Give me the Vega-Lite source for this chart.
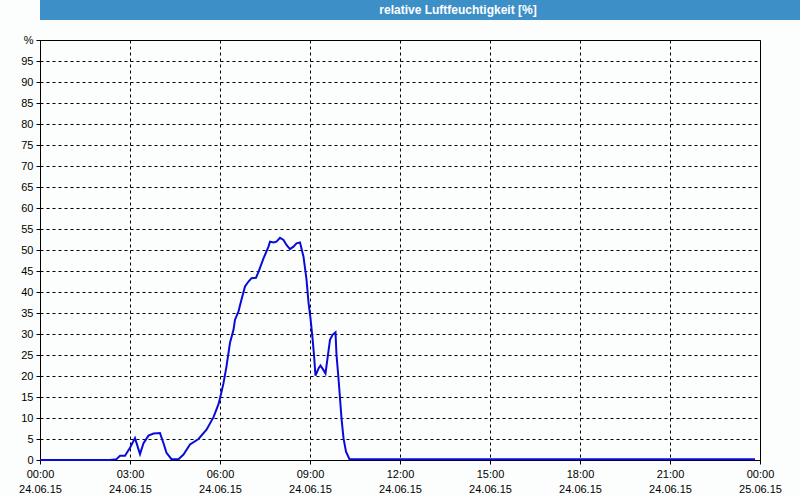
{
  "$schema": "https://vega.github.io/schema/vega-lite/v6.json",
  "background": "#fbfefd",
  "padding": 0,
  "columns": 1,
  "align": "none",
  "spacing": 13,
  "config": {"view": {"stroke": null}, "font": "Liberation Sans"},
  "concat": [
    {
      "width": 800,
      "height": 20,
      "view": {"fill": "#3d8fc8", "stroke": null},
      "data": {"values": [{"title": "relative Luftfeuchtigkeit [%]"}]},
      "mark": {"type": "text", "color": "#ffffff", "fontWeight": "bold", "fontSize": 12, "font": "Liberation Sans", "dx": 18, "baseline": "middle", "align": "center"},
      "encoding": {"text": {"field": "title", "type": "nominal"}}
    },
    {
      "width": 720,
      "height": 420,
      "view": {"stroke": "#000000", "strokeWidth": 1},
      "data": {"values": [
        {"t": "2015-06-24T00:00", "v": 0},
        {"t": "2015-06-24T02:20", "v": 0},
        {"t": "2015-06-24T02:33", "v": 0.2},
        {"t": "2015-06-24T02:40", "v": 1.0},
        {"t": "2015-06-24T02:50", "v": 1.0},
        {"t": "2015-06-24T03:00", "v": 2.9},
        {"t": "2015-06-24T03:10", "v": 5.2},
        {"t": "2015-06-24T03:20", "v": 1.4},
        {"t": "2015-06-24T03:27", "v": 4.0},
        {"t": "2015-06-24T03:37", "v": 5.8},
        {"t": "2015-06-24T03:47", "v": 6.3},
        {"t": "2015-06-24T04:00", "v": 6.4},
        {"t": "2015-06-24T04:07", "v": 4.0},
        {"t": "2015-06-24T04:13", "v": 1.7},
        {"t": "2015-06-24T04:23", "v": 0.2},
        {"t": "2015-06-24T04:37", "v": 0.2},
        {"t": "2015-06-24T04:47", "v": 1.3},
        {"t": "2015-06-24T05:00", "v": 3.7},
        {"t": "2015-06-24T05:17", "v": 5.0},
        {"t": "2015-06-24T05:33", "v": 7.2},
        {"t": "2015-06-24T05:47", "v": 10.2},
        {"t": "2015-06-24T05:57", "v": 13.3},
        {"t": "2015-06-24T06:01", "v": 15.2},
        {"t": "2015-06-24T06:07", "v": 18.3},
        {"t": "2015-06-24T06:13", "v": 22.3},
        {"t": "2015-06-24T06:20", "v": 27.9},
        {"t": "2015-06-24T06:27", "v": 31.0},
        {"t": "2015-06-24T06:30", "v": 33.4},
        {"t": "2015-06-24T06:37", "v": 35.4},
        {"t": "2015-06-24T06:43", "v": 38.2},
        {"t": "2015-06-24T06:50", "v": 41.3},
        {"t": "2015-06-24T06:57", "v": 42.5},
        {"t": "2015-06-24T07:03", "v": 43.3},
        {"t": "2015-06-24T07:12", "v": 43.4},
        {"t": "2015-06-24T07:17", "v": 44.8},
        {"t": "2015-06-24T07:27", "v": 48.0},
        {"t": "2015-06-24T07:37", "v": 50.8},
        {"t": "2015-06-24T07:40", "v": 52.0},
        {"t": "2015-06-24T07:47", "v": 51.8},
        {"t": "2015-06-24T07:53", "v": 52.0},
        {"t": "2015-06-24T08:00", "v": 52.9},
        {"t": "2015-06-24T08:07", "v": 52.4},
        {"t": "2015-06-24T08:13", "v": 51.2},
        {"t": "2015-06-24T08:20", "v": 50.2},
        {"t": "2015-06-24T08:27", "v": 50.8},
        {"t": "2015-06-24T08:33", "v": 51.6},
        {"t": "2015-06-24T08:40", "v": 51.8},
        {"t": "2015-06-24T08:47", "v": 48.4},
        {"t": "2015-06-24T08:53", "v": 43.0},
        {"t": "2015-06-24T08:57", "v": 37.5},
        {"t": "2015-06-24T09:01", "v": 33.7},
        {"t": "2015-06-24T09:05", "v": 29.0},
        {"t": "2015-06-24T09:08", "v": 25.0},
        {"t": "2015-06-24T09:11", "v": 20.1},
        {"t": "2015-06-24T09:17", "v": 21.8},
        {"t": "2015-06-24T09:21", "v": 22.5},
        {"t": "2015-06-24T09:27", "v": 21.4},
        {"t": "2015-06-24T09:31", "v": 20.6},
        {"t": "2015-06-24T09:35", "v": 24.2},
        {"t": "2015-06-24T09:40", "v": 28.6},
        {"t": "2015-06-24T09:45", "v": 29.8},
        {"t": "2015-06-24T09:51", "v": 30.4},
        {"t": "2015-06-24T09:53", "v": 25.0},
        {"t": "2015-06-24T09:57", "v": 19.4},
        {"t": "2015-06-24T10:00", "v": 14.7},
        {"t": "2015-06-24T10:03", "v": 9.9},
        {"t": "2015-06-24T10:07", "v": 5.2},
        {"t": "2015-06-24T10:12", "v": 2.0},
        {"t": "2015-06-24T10:19", "v": 0.2},
        {"t": "2015-06-24T23:50", "v": 0.2}
      ]},
      "mark": {"type": "line", "color": "#0b0bd9", "strokeWidth": 2},
      "encoding": {
        "x": {
          "field": "t",
          "type": "temporal",
          "scale": {"nice": "day"},
          "axis": {
            "title": null,
            "tickCount": 8,
            "labelExpr": "[timeFormat(datum.value, '%H:%M'), timeFormat(datum.value, '%d.%m.%y')]",
            "labelFont": "Liberation Sans",
            "labelFontSize": 11,
            "labelColor": "#000000",
            "labelLineHeight": 15,
            "labelPadding": 4,
            "labelFlush": false,
            "grid": true,
            "gridColor": "#000000",
            "gridDash": [3, 3],
            "tickSize": 4,
            "tickColor": "#000000",
            "domainColor": "#000000"
          }
        },
        "y": {
          "field": "v",
          "type": "quantitative",
          "scale": {"domain": [0, 100]},
          "axis": {
            "title": ".",
            "titleColor": "#fbfefd",
            "titleFontSize": 11,
            "titlePadding": 9,
            "tickCount": 20,
            "labelExpr": "datum.value == 100 ? '%' : datum.label",
            "labelFont": "Liberation Sans",
            "labelFontSize": 11,
            "labelColor": "#000000",
            "labelPadding": 3,
            "grid": true,
            "gridColor": "#000000",
            "gridDash": [3, 3],
            "tickSize": 4,
            "tickColor": "#000000",
            "domainColor": "#000000"
          }
        }
      }
    }
  ]
}
